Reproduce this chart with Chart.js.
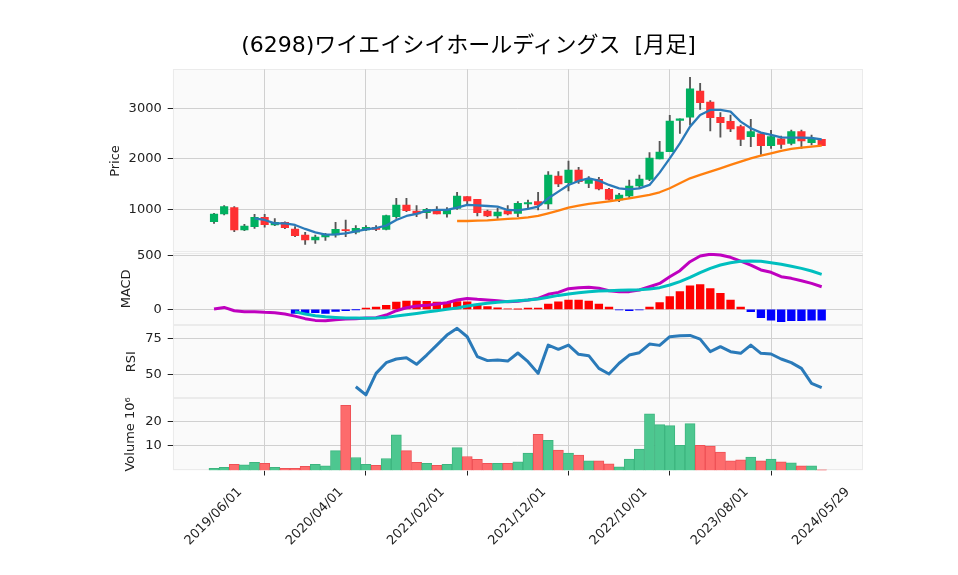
<!DOCTYPE html>
<html>
<head>
<meta charset="utf-8">
<title>(6298) 月足</title>
<script src="https://cdn.jsdelivr.net/npm/chart.js@4.4.1/dist/chart.umd.min.js"></script>
<style>
  html, body { margin: 0; padding: 0; background: #fff; }
  #wrap { position: relative; width: 958px; height: 575px; }
  #chart { position: absolute; left: 0; top: 0; }
  #title {
    position: absolute; left: 0; top: 30px; width: 937px;
    text-align: center; color: #000; white-space: pre;
    font: 22px/30px 'DejaVu Sans', 'Noto Sans CJK JP', sans-serif;
  }
</style>
</head>
<body>
<div id="wrap">
  <canvas id="chart" width="958" height="575"></canvas>
  <div id="title">(6298)ワイエイシイホールディングス  [月足]</div>
</div>
<script>
// x axis: one candle per month, index 0 = 2019/06
const tickIdx = [0, 10, 20, 30, 40, 50, 60];
const tickLabels = ['2019/06/01', '2020/04/01', '2021/02/01', '2021/12/01', '2022/10/01', '2023/08/01', '2024/05/29'];

// monthly OHLC (yen)
const openP = [756, 908, 1033, 591, 657, 842, 690, 743, 611, 492, 393, 452, 492, 597, 545, 591, 644, 604, 855, 1086,
  967, 934, 1000, 908, 1020, 1251, 1198, 967, 868, 974, 921, 1106, 1152, 1106, 1660, 1528, 1779, 1515, 1594, 1396,
  1185, 1264, 1462, 1594, 1997, 2142, 2762, 2822, 3343, 3125, 2822, 2742, 2637, 2439, 2492, 2261, 2393, 2307, 2538, 2320, 2386];
const highP = [921, 1073, 1053, 703, 901, 901, 815, 750, 657, 545, 492, 525, 743, 789, 677, 677, 677, 888, 1218, 1218,
  1073, 1020, 1053, 1033, 1337, 1251, 1198, 987, 1020, 1073, 1152, 1185, 1337, 1746, 1746, 1957, 1832, 1647, 1634, 1416,
  1317, 1581, 1680, 2122, 2346, 2861, 2789, 3614, 3495, 3152, 2914, 2868, 2670, 2782, 2492, 2564, 2452, 2571, 2571, 2472, 2386];
const lowP = [723, 888, 558, 578, 624, 644, 677, 617, 459, 307, 327, 386, 446, 459, 512, 578, 578, 591, 822, 954,
  855, 822, 908, 842, 1000, 1086, 868, 855, 822, 888, 855, 1020, 987, 1007, 1449, 1363, 1515, 1429, 1383, 1185,
  1152, 1231, 1416, 1568, 1997, 2142, 2505, 2670, 2980, 2551, 2426, 2538, 2261, 2241, 2089, 2208, 2208, 2274, 2208, 2274, 2261];
const closeP = [908, 1053, 591, 670, 842, 696, 743, 637, 479, 393, 452, 492, 604, 578, 624, 644, 604, 875, 1086, 974,
  908, 1000, 908, 1000, 1264, 1165, 934, 868, 947, 908, 1119, 1132, 1086, 1680, 1502, 1779, 1548, 1594, 1403, 1198,
  1284, 1462, 1601, 2016, 2135, 2749, 2789, 3383, 3112, 2815, 2716, 2591, 2386, 2538, 2261, 2439, 2287, 2538, 2353, 2406, 2261];

// moving averages as drawn
const ma5 = [null, null, null, null, 822, 789, 723, 723, 690, 611, 545, 498, 505, 525, 564, 604, 630, 677, 789, 868,
  908, 974, 987, 987, 1033, 1086, 1079, 1066, 1053, 987, 980, 1007, 1053, 1218, 1350, 1482, 1561, 1614, 1568, 1482,
  1416, 1396, 1416, 1482, 1726, 2010, 2307, 2637, 2868, 2967, 2967, 2934, 2736, 2604, 2518, 2472, 2426, 2419, 2419, 2412, 2386];
const ma25 = [null, null, null, null, null, null, null, null, null, null, null, null, null, null, null, null, null, null, null, null,
  null, null, null, null, 769, 769, 776, 782, 795, 809, 822, 842, 868, 921, 974, 1033, 1073, 1106, 1132, 1158,
  1185, 1218, 1251, 1284, 1337, 1416, 1515, 1614, 1680, 1746, 1812, 1878, 1944, 2010, 2063, 2109, 2155, 2195, 2221, 2241, 2261];

// MACD panel
const macd = [3, 18, -13, -22, -22, -28, -31, -44, -63, -87, -103, -106, -97, -91, -87, -81, -78, -53, -13, 15,
  31, 37, 49, 62, 87, 102, 93, 87, 81, 70, 75, 87, 102, 140, 158, 193, 202, 205, 196, 174,
  165, 165, 180, 211, 242, 304, 360, 444, 497, 513, 507, 485, 450, 413, 367, 345, 304, 289, 267, 242, 211];
const signal = [null, null, null, null, null, null, null, null, -22, -44, -59, -69, -75, -81, -81, -84, -81, -75, -63, -50,
  -38, -25, -13, 0, 12, 31, 46, 56, 65, 74, 81, 87, 96, 112, 130, 143, 155, 165, 171, 174,
  177, 180, 183, 189, 202, 227, 258, 298, 342, 382, 413, 435, 448, 451, 448, 435, 420, 401, 382, 357, 326];
const hist = [null, null, null, null, null, null, null, null, -38, -31, -31, -38, -19, -13, -3, 12, 21, 37, 68, 77,
  77, 74, 68, 62, 72, 70, 40, 25, 14, 3, 1, 12, 12, 49, 71, 87, 87, 77, 49, 21,
  -6, -12, -6, 21, 62, 118, 165, 220, 230, 193, 149, 87, 21, -22, -78, -100, -115, -106, -106, -100, -100];

// RSI panel
const rsi = [null, null, null, null, null, null, null, null, null, null, null, null, null, null, 42.0, 36.4, 51.1, 58.4, 60.9, 61.8,
  57.3, 63.6, 70.4, 77.2, 81.8, 76.1, 62.5, 59.8, 60.2, 59.5, 65.0, 59.1, 51.1, 70.4, 67.5, 70.4, 64.1, 63.2, 54.5, 50.7,
  58.0, 63.6, 65.2, 71.1, 70.2, 76.1, 76.7, 77.0, 74.5, 65.9, 69.3, 65.9, 64.8, 70.4, 64.8, 64.3, 60.9, 58.4, 54.5, 44.3, 41.4];

// volume, millions of shares
const volume = [0.9, 1.3, 2.5, 2.3, 3.3, 2.9, 1.3, 0.9, 0.9, 1.7, 2.5, 1.9, 8.1, 26.5, 5.3, 2.5, 2.1, 4.9, 14.5, 8.1,
  3.3, 2.9, 2.1, 2.5, 9.3, 5.7, 4.5, 2.9, 2.9, 2.9, 3.5, 7.1, 14.7, 12.3, 8.3, 7.1, 6.3, 3.9, 3.9, 2.7,
  1.5, 4.7, 8.7, 23.1, 18.7, 18.3, 10.3, 19.1, 10.3, 9.9, 7.5, 3.9, 4.3, 5.5, 3.9, 4.7, 3.5, 3.1, 1.9, 1.9, 0.3];

const FONT = "'DejaVu Sans', 'Noto Sans CJK JP', sans-serif";
const TXT = '#222';
const GRID = '#d0d0d0';
const AXIS_W = 172.7;

const isUp = closeP.map((c, i) => c >= openP[i]);
const idx = closeP.map((_, i) => i);

const fixTicks = (vals) => (scale) => { scale.ticks = vals.map(v => ({ value: v })); };

function yAxis(min, max, ticks, title, titlePad, weight, stackWeight) {
  return {
    type: 'linear', position: 'left', stack: 'panels', weight, stackWeight, min, max,
    afterBuildTicks: fixTicks(ticks),
    afterFit: (s) => { s.width = AXIS_W; },
    border: { display: false },
    grid: { color: GRID, lineWidth: 1, tickColor: TXT, tickLength: 5 },
    ticks: { color: TXT, font: { family: FONT, size: 13 }, padding: 6, callback: (v) => String(v) },
    title: { display: true, text: title, color: TXT, font: { family: FONT, size: 13 }, padding: { top: titlePad, bottom: 0 } }
  };
}

// grey panel backgrounds behind each stacked axis
const panels = {
  id: 'panels',
  beforeDraw(chart) {
    const { ctx, chartArea: a } = chart;
    ctx.save();
    ctx.fillStyle = '#fff';
    ctx.fillRect(0, 0, chart.width, chart.height);
    for (const id of ['yP', 'yM', 'yR', 'yV']) {
      const s = chart.scales[id];
      ctx.fillStyle = '#fafafa';
      ctx.fillRect(a.left, s.top, a.right - a.left, s.bottom - s.top);
      ctx.strokeStyle = '#ebebeb';
      ctx.lineWidth = 1;
      ctx.strokeRect(Math.round(a.left) + 0.5, Math.round(s.top) + 0.5, Math.round(a.right - a.left) - 1, Math.round(s.bottom - s.top) - 1);
    }
    ctx.restore();
  }
};

const lineDs = (data, axis, color, width, order) => ({
  type: 'line', data, yAxisID: axis, borderColor: color, borderWidth: width,
  pointRadius: 0, borderJoinStyle: 'round', tension: 0, order
});

new Chart(document.getElementById('chart'), {
  type: 'bar',
  data: {
    labels: idx,
    datasets: [
      lineDs(ma5, 'yP', '#2a7ab9', 2.3, 1),
      lineDs(ma25, 'yP', '#ff7f0e', 2.3, 1),
      {
        type: 'bar', data: openP.map((o, i) => [o, closeP[i]]), yAxisID: 'yP',
        backgroundColor: isUp.map(u => u ? '#00b060' : '#fe3032'),
        barThickness: 7.5, grouped: false, order: 2
      },
      {
        type: 'bar', data: lowP.map((l, i) => [l, highP[i]]), yAxisID: 'yP',
        backgroundColor: '#555', barThickness: 1.2, grouped: false, order: 3
      },
      lineDs(signal, 'yM', '#00bfbf', 3, 0),
      lineDs(macd, 'yM', '#bf00bf', 3, 1),
      {
        type: 'bar', data: hist, yAxisID: 'yM',
        backgroundColor: hist.map(v => v >= 0 ? '#ff0000' : '#0000ff'),
        barThickness: 7.7, grouped: false, order: 4
      },
      lineDs(rsi, 'yR', '#2a7ab9', 3, 1),
      {
        type: 'bar', data: volume, yAxisID: 'yV',
        backgroundColor: isUp.map(u => u ? '#4dc790' : '#fd6b6c'),
        borderColor: isUp.map(u => u ? '#3db57f' : '#ef5156'),
        borderWidth: 1, barPercentage: 1, categoryPercentage: 1, grouped: false, order: 5
      }
    ]
  },
  options: {
    responsive: false,
    devicePixelRatio: 1,
    animation: false,
    layout: { padding: { left: 0, top: 69.3, right: 95.3, bottom: 0 } },
    plugins: { legend: { display: false }, tooltip: { enabled: false } },
    scales: {
      x: {
        type: 'linear', min: -4.08, max: 64.05, offset: false,
        afterBuildTicks: fixTicks(tickIdx),
        afterFit: (s) => { s.height = 104.5; },
        border: { display: false },
        grid: { color: GRID, lineWidth: 1, tickColor: TXT, tickLength: 5 },
        ticks: {
          autoSkip: false, minRotation: 45, maxRotation: 45, labelOffset: 26, padding: 9,
          color: TXT, font: { family: FONT, size: 13 },
          callback: (v, i) => tickLabels[i]
        }
      },
      yP: yAxis(141, 3772, [1000, 2000, 3000], 'Price', 107.7, 4, 183.4),
      yM: yAxis(-146, 528, [0, 500], 'MACD', 119, 3, 72.3),
      yR: yAxis(34.1, 84.1, [50, 75], 'RSI', 124, 2, 73.3),
      yV: yAxis(0, 29.4, [10, 20], 'Volume 10⁶', 122.7, 1, 72.2)
    }
  },
  plugins: [panels]
});
</script>
</body>
</html>
